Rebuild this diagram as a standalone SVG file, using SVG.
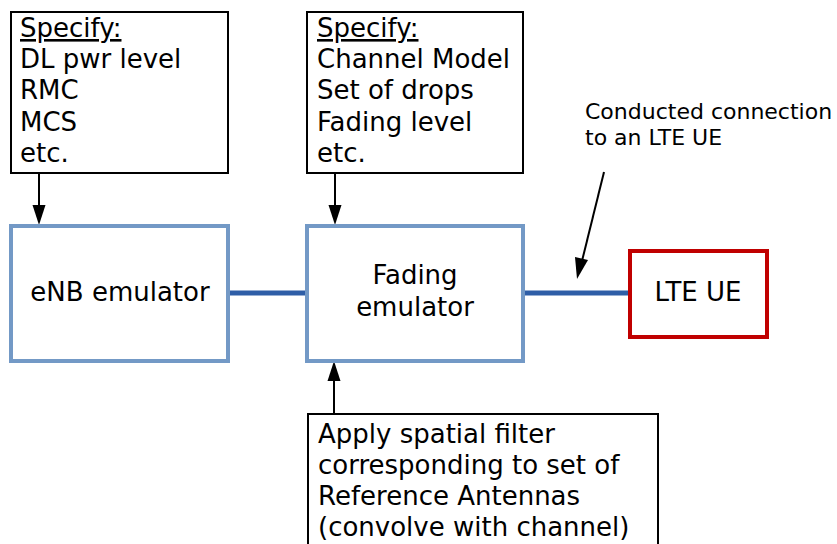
<svg xmlns="http://www.w3.org/2000/svg" width="837" height="544" viewBox="0 0 837 544">
<style>
text{font-family:"DejaVu Sans",Verdana,sans-serif;fill:#000}
.t{font-size:26px}
.s{font-size:22px}
.note{fill:#fff;stroke:#000;stroke-width:2}
.emu{fill:#fff;stroke:#7399c6;stroke-width:4}
.ue{fill:#fff;stroke:#c00000;stroke-width:4}
.link{stroke:#2e5ea7;stroke-width:5;fill:none}
.shaft{stroke:#000;stroke-width:2;fill:none}
.head{fill:#000}
</style>
<g id="connectors">
<line class="link" x1="228" y1="293" x2="307" y2="293"/>
<line class="link" x1="523" y1="293" x2="630" y2="293"/>
<path class="shaft" d="M39,173 V207"/>
<polygon class="head" points="32.5,205 45.5,205 39,225"/>
<path class="shaft" d="M335,173 V207"/>
<polygon class="head" points="328.5,205 341.5,205 335,225"/>
<path class="shaft" d="M334,414 V379"/>
<polygon class="head" points="327.5,381 340.5,381 334,361"/>
<path class="shaft" d="M604,172 L582,261"/>
<polygon class="head" points="575,257 588,260 577,279"/>
</g>
<g id="spec-enb">
<rect class="note" x="11" y="12" width="217" height="161"/>
<text class="t" x="20" y="37" text-decoration="underline">Specify:</text>
<text class="t" x="20" y="68">DL pwr level</text>
<text class="t" x="20" y="99">RMC</text>
<text class="t" x="20" y="131">MCS</text>
<text class="t" x="20" y="162">etc.</text>
</g>
<g id="spec-fading">
<rect class="note" x="307" y="12" width="216" height="161"/>
<text class="t" x="317" y="37" text-decoration="underline">Specify:</text>
<text class="t" x="317" y="68">Channel Model</text>
<text class="t" x="317" y="99">Set of drops</text>
<text class="t" x="317" y="131">Fading level</text>
<text class="t" x="317" y="162">etc.</text>
</g>
<g id="enb">
<rect class="emu" x="11" y="226" width="217" height="135"/>
<text class="t" x="120" y="301" text-anchor="middle">eNB emulator</text>
</g>
<g id="fading">
<rect class="emu" x="307" y="226" width="216" height="135"/>
<text class="t" x="415" y="284" text-anchor="middle">Fading</text>
<text class="t" x="415" y="316" text-anchor="middle">emulator</text>
</g>
<g id="ue">
<rect class="ue" x="630" y="251" width="137" height="86"/>
<text class="t" x="698" y="301" text-anchor="middle">LTE UE</text>
</g>
<g id="conducted-label">
<text class="s" x="585" y="119">Conducted connection</text>
<text class="s" x="585" y="145">to an LTE UE</text>
</g>
<g id="spatial-filter">
<rect class="note" x="308" y="414" width="350" height="140"/>
<text class="t" x="318" y="443">Apply spatial filter</text>
<text class="t" x="318" y="474">corresponding to set of</text>
<text class="t" x="318" y="505">Reference Antennas</text>
<text class="t" x="318" y="536">(convolve with channel)</text>
</g>
</svg>
